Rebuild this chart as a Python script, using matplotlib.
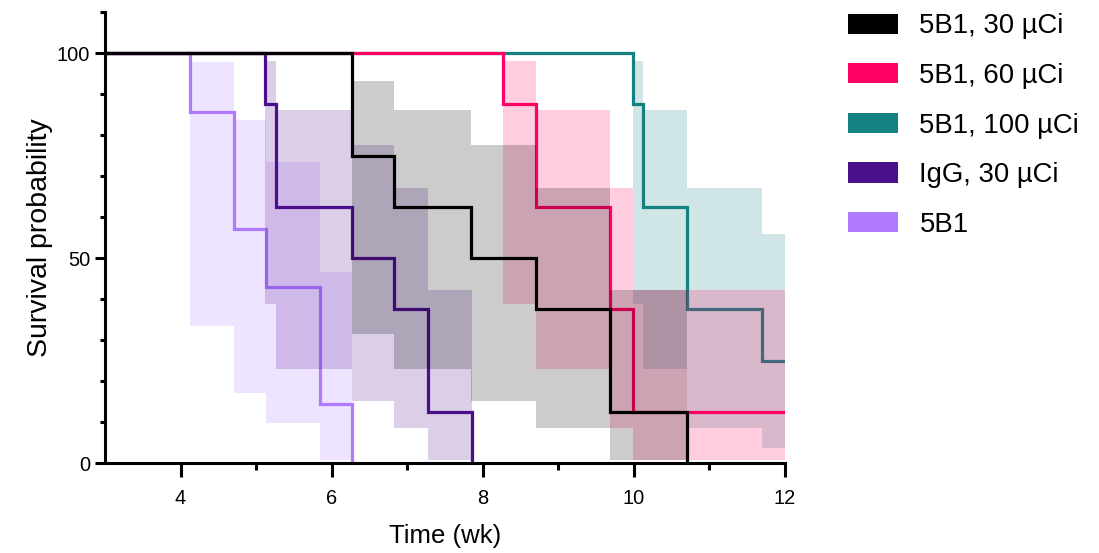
import matplotlib
matplotlib.use("Agg")
import matplotlib.pyplot as plt
from matplotlib.patches import Patch
from matplotlib.ticker import FixedLocator

plt.rcParams['font.family'] = ['Liberation Sans', 'DejaVu Sans']

# ---- data ----
labels = ["5B1, 30 µCi", "5B1, 60 µCi", "5B1, 100 µCi", "IgG, 30 µCi", "5B1"]
colors = ["#000000", "#FF0066", "#158282", "#4B0F8C", "#B07AFF"]

t_30 = [6.27, 6.83, 7.84, 8.70, 9.69, 10.70]
s_30 = [75.0, 62.5, 50.0, 37.5, 12.5, 0.0]
lo_30 = [31.5, 22.9, 15.2, 8.5, 0.7]
hi_30 = [93.1, 86.1, 77.5, 67.1, 42.3]

t_60 = [8.27, 8.70, 9.69, 9.99]
s_60 = [87.5, 62.5, 37.5, 12.5]
lo_60 = [38.7, 22.9, 8.5, 0.7]
hi_60 = [98.1, 86.1, 67.1, 42.3]

t_100 = [9.99, 10.12, 10.70, 11.69]
s_100 = [87.5, 62.5, 37.5, 25.0]
lo_100 = [38.7, 22.9, 8.5, 3.7]
hi_100 = [98.1, 86.1, 67.1, 55.8]

t_igg = [5.12, 5.27, 6.27, 6.83, 7.27, 7.86]
s_igg = [87.5, 62.5, 50.0, 37.5, 12.5, 0.0]
lo_igg = [38.7, 22.9, 15.2, 8.5, 0.7]
hi_igg = [98.1, 86.1, 77.5, 67.1, 42.3]

t_5b1 = [4.12, 4.71, 5.13, 5.84, 6.27]
s_5b1 = [85.7, 57.1, 42.9, 14.3, 0.0]
lo_5b1 = [33.4, 17.2, 9.8, 0.7]
hi_5b1 = [97.9, 83.7, 73.4, 46.5]

end_followup = 12.0

series = [
    (t_30, s_30, lo_30, hi_30),
    (t_60, s_60, lo_60, hi_60),
    (t_100, s_100, lo_100, hi_100),
    (t_igg, s_igg, lo_igg, hi_igg),
    (t_5b1, s_5b1, lo_5b1, hi_5b1),
]

x_major = [4, 6, 8, 10, 12]
x_minor = [5, 7, 9, 11]
y_major = [0, 50, 100]
y_minor = [10, 20, 30, 40, 60, 70, 80, 90, 110]

# ---- figure ----
fig = plt.figure(figsize=(10.99, 5.53), dpi=100)
ax = fig.add_axes([0.0955, 0.1627, 0.6188, 0.8156])

n = len(series)
for k in reversed(range(n)):
    t, s, lo, hi = series[k]
    col = colors[k]
    z = 2 + (n - k) * 2
    if s[-1] == 0:
        xs = [0.0] + t
        ys = [100.0] + s
        bx = t[:]
    else:
        xs = [0.0] + t + [end_followup]
        ys = [100.0] + s + [s[-1]]
        bx = t + [end_followup]
    ax.step(xs, ys, where='post', color=col, lw=2.3, zorder=z,
            solid_joinstyle='miter')
    ax.fill_between(bx, lo + [lo[-1]], hi + [hi[-1]], step='post',
                    color=col, alpha=0.2, lw=0, zorder=z + 1)

ax.set_xlim(3, 12)
ax.set_ylim(0, 110)
for sp in ['top', 'right']:
    ax.spines[sp].set_visible(False)
for sp in ['left', 'bottom']:
    ax.spines[sp].set_linewidth(2.2)
    ax.spines[sp].set_zorder(20)

ax.xaxis.set_major_locator(FixedLocator(x_major))
ax.xaxis.set_minor_locator(FixedLocator(x_minor))
ax.yaxis.set_major_locator(FixedLocator(y_major))
ax.yaxis.set_minor_locator(FixedLocator(y_minor))
ax.tick_params(axis='x', which='major', length=10, width=2.2, labelsize=14.4, pad=8.5)
ax.tick_params(axis='x', which='minor', length=5, width=2.2)
ax.tick_params(axis='y', which='major', length=7, width=2.2, labelsize=14.4, pad=3.5)
ax.tick_params(axis='y', which='minor', length=3.5, width=2.2)

ax.set_xlabel("Time (wk)", fontsize=18.5, labelpad=12)
ax.set_ylabel("Survival probability", fontsize=20.5, labelpad=3)

handles = [Patch(facecolor=c, edgecolor='none') for c in colors]
fig.legend(handles, labels, loc='upper left', bbox_to_anchor=(0.772, 0.976),
           frameon=False, fontsize=19.8, handlelength=1.82, handleheight=0.76,
           handletextpad=0.76, labelspacing=0.86, borderpad=0, borderaxespad=0)

fig.savefig("out.png", dpi=100)
